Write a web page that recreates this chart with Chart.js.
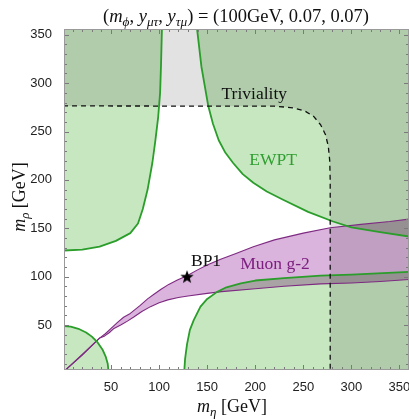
<!DOCTYPE html>
<html><head><meta charset="utf-8">
<style>html,body{margin:0;padding:0;background:#fff}canvas{display:block}</style>
<script src="https://cdn.jsdelivr.net/npm/chart.js@4.4.1/dist/chart.umd.min.js"></script>
</head><body>
<canvas id="c" width="409" height="419"></canvas>
<script>
// ---- axis ranges & ticks ----
const xRange = [1, 360];
const yRange = [3.5, 356];
const xTickValues = [50, 100, 150, 200, 250, 300, 350];
const yTickValues = [50, 100, 150, 200, 250, 300, 350];

// ---- EWPT exclusion boundaries (m_eta, m_rho) ----
const ewptLeft = [[0,127],[20,128],[38,131],[55,137],[70,145],[78,155],[83,170],[88,190],[93,218],[96,240],[99,265],[101,290],[102,320],[103,360]];
const ewptUpperRight = [[139,360],[144,317],[151,277],[156,258],[162,241],[169,228],[177,217.5],[187,206],[198,197],[212,188],[229,179.5],[255,167],[281,157],[300,151],[330,146],[360,141.5]];
const ewptLowerRight = [[126,0],[127,15],[129,30],[132,45],[136,55],[143,69],[150,77],[160,84],[170,89],[185,93],[200,96],[230,98.5],[268,101],[300,102],[360,105]];
const ewptCorner = [[0,49],[8,48.3],[16,46.1],[24,42.3],[30,38],[36,32],[41,24.7],[44.5,17],[46.5,10],[47.5,0]];

// ---- Muon g-2 band ----
const muonUpper = [[2,3],[20,19.5],[38,36.5],[44,41],[50,46.5],[57,53],[63,58],[70,62],[80,70],[88,77],[95,82],[102,87],[110,92],[119,96.5],[129,101],[140,107],[150,112],[164,118],[180,124],[198,131],[220,138],[250,145],[278,150.5],[310,154],[340,157],[360,159.5]];
const muonLower = [[2,3],[20,19],[38,36.5],[43,38.5],[48,42],[53,46.5],[60,50],[67,54],[74,58.5],[82,64],[91,69],[100,73],[109,76],[120,78.5],[130,80],[150,82.7],[165,84.5],[200,87.5],[230,90],[268,92.5],[300,93.5],[330,95],[360,97]];

// ---- Triviality bound ----
const triviality = [[0,276.5],[220,276.2],[240,274.5],[252,271],[261,265.5],[268,257],[273,247],[276,235],[277.5,220],[278,200],[278,0]];

// ---- benchmark point ----
const bp1 = [[129,100]];

// ---- text annotations (anchor in data coords, baseline) ----
const annotations = [
  {text:'Triviality', x:199, y:284, color:'#111'},
  {text:'EWPT', x:218.5, y:215.5, color:'#2f9e2f'},
  {text:'BP1', x:148.8, y:111.2, color:'#111'},
  {text:'Muon g-2', x:220.6, y:107.5, color:'#7d1f80'}
];

// ---- build polygons ----
const X0 = xRange[0]-20, X1 = xRange[1]+20, Y0 = yRange[0]-20, Y1 = yRange[1]+20;
const last = a => a[a.length-1];
const polyLeft = [[X0, ewptLeft[0][1]], ...ewptLeft, [last(ewptLeft)[0], Y1], [X0, Y1]];
const polyUpperRight = [[ewptUpperRight[0][0], Y1], ...ewptUpperRight, [X1, last(ewptUpperRight)[1]], [X1, Y1]];
const polyLowerRight = [[ewptLowerRight[0][0], Y0], ...ewptLowerRight, [X1, last(ewptLowerRight)[1]], [X1, Y0]];
const polyCorner = [[X0, ewptCorner[0][1]], ...ewptCorner, [last(ewptCorner)[0], Y0], [X0, Y0]];
const polyMuon = [...muonUpper, ...muonLower.slice().reverse()];
const polyTriv = [[X0, triviality[0][1]], ...triviality, [last(triviality)[0], Y0], [X1, Y0], [X1, Y1], [X0, Y1]];

const P = a => a.map(([x,y]) => ({x, y}));
const GREEN_FILL = 'rgb(199,231,193)';
const GREEN_LINE = '#2a9d2a';
const PURPLE_FILL = 'rgb(218,180,220)';
const PURPLE_LINE = '#7e2a82';
const TRIV_FILL = 'rgb(226,226,226)';

function fillDs(pts, color, blend){
  return {data:P(pts), fill:'shape', backgroundColor:color, borderWidth:0, pointRadius:0, tension:0, clip:0, blend:!!blend};
}
function lineDs(pts, color, width, dash){
  return {data:P(pts), fill:false, borderColor:color, borderWidth:width, borderDash:dash||[], pointRadius:0, tension:0, clip:0, borderJoinStyle:'round'};
}

// star marker
const star = document.createElement('canvas');
star.width = 14; star.height = 14;
(function(){
  const g = star.getContext('2d');
  g.fillStyle = '#000';
  g.beginPath();
  for (let i=0;i<10;i++){
    const r = i%2===0 ? 7 : 2.9;
    const a = -Math.PI/2 + i*Math.PI/5;
    const px = 7 + r*Math.cos(a), py = 7.5 + r*Math.sin(a);
    if(i===0) g.moveTo(px,py); else g.lineTo(px,py);
  }
  g.closePath(); g.fill();
})();

const layers = [
  fillDs(polyLeft, GREEN_FILL),
  fillDs(polyUpperRight, GREEN_FILL),
  fillDs(polyLowerRight, GREEN_FILL),
  fillDs(polyCorner, GREEN_FILL),
  fillDs(polyMuon, PURPLE_FILL, true),
  fillDs(polyTriv, TRIV_FILL, true),
  lineDs(muonUpper, PURPLE_LINE, 1.1),
  lineDs(muonLower, PURPLE_LINE, 1.1),
  lineDs(ewptLeft, GREEN_LINE, 1.8),
  lineDs(ewptUpperRight, GREEN_LINE, 1.8),
  lineDs(ewptLowerRight, GREEN_LINE, 1.8),
  lineDs(ewptCorner, GREEN_LINE, 1.8),
  lineDs(triviality, '#111', 1.3, [5,4]),
  {data:P(bp1), showLine:false, pointStyle:star, pointRadius:7, clip:false}
];
layers.forEach((d,i) => d.order = layers.length - i);

// ---- rich text helper ----
const SERIF = '"Liberation Serif","DejaVu Serif",serif';
function drawRich(ctx, parts, x, y, size, align){
  const fontOf = p => {
    const s = p.sub ? size*0.72 : size;
    return (p.it ? 'italic ' : '') + s + 'px ' + SERIF;
  };
  let w = 0;
  parts.forEach(p => { ctx.font = fontOf(p); p.w = ctx.measureText(p.t).width; w += p.w; });
  let cx = align === 'center' ? x - w/2 : x;
  ctx.textAlign = 'left'; ctx.textBaseline = 'alphabetic';
  parts.forEach(p => {
    ctx.font = fontOf(p);
    ctx.fillText(p.t, cx, y + (p.sub ? size*0.22 : 0));
    cx += p.w;
  });
}

function setBlend(chart, meta){
  const metas = chart.getSortedVisibleDatasetMetas();
  const pos = meta ? metas.indexOf(meta) - 1 : metas.length - 1;
  const next = metas[pos];
  chart.ctx.globalCompositeOperation = (next && chart.data.datasets[next.index].blend) ? 'multiply' : 'source-over';
}

const deco = {
  id: 'deco',
  beforeDatasetsDraw(chart){ setBlend(chart, null); },
  afterDatasetDraw(chart, args){ setBlend(chart, args.meta); },
  afterDatasetsDraw(chart){ chart.ctx.globalCompositeOperation = 'source-over'; },
  afterDraw(chart){
    const ctx = chart.ctx, a = chart.chartArea, xs = chart.scales.x, ys = chart.scales.y;
    ctx.save();
    // tick marks, inward on all four sides
    ctx.strokeStyle = '#7a7a7a'; ctx.lineWidth = 1;
    ctx.beginPath();
    for (let v = 10; v < 360; v += 10){
      const L = v % 50 === 0 ? 5 : 3;
      if (v >= xRange[0] && v <= xRange[1]){
        const px = Math.round(xs.getPixelForValue(v)) + 0.5;
        ctx.moveTo(px, a.bottom); ctx.lineTo(px, a.bottom - L);
        ctx.moveTo(px, a.top); ctx.lineTo(px, a.top + L);
      }
      if (v >= yRange[0] && v <= yRange[1]){
        const py = Math.round(ys.getPixelForValue(v)) + 0.5;
        ctx.moveTo(a.left, py); ctx.lineTo(a.left + L, py);
        ctx.moveTo(a.right, py); ctx.lineTo(a.right - L, py);
      }
    }
    ctx.stroke();
    // frame
    ctx.strokeStyle = '#9a9a9a';
    ctx.strokeRect(a.left + 0.5, a.top + 0.5, a.right - a.left - 1, a.bottom - a.top - 1);
    // annotations
    annotations.forEach(t => {
      ctx.fillStyle = t.color; ctx.font = '17.5px ' + SERIF;
      ctx.textAlign = 'center'; ctx.textBaseline = 'alphabetic';
      ctx.fillText(t.text, xs.getPixelForValue(t.x), ys.getPixelForValue(t.y));
    });
    // title
    ctx.fillStyle = '#111';
    drawRich(ctx, [
      {t:'('}, {t:'m', it:true}, {t:'ϕ', it:true, sub:true}, {t:', '},
      {t:'y', it:true}, {t:'μτ', it:true, sub:true}, {t:', '},
      {t:'y', it:true}, {t:'τμ', it:true, sub:true},
      {t:') = (100GeV, 0.07, 0.07)'}
    ], 236, 22, 18.5, 'center');
    // x axis title
    drawRich(ctx, [{t:'m', it:true}, {t:'η', it:true, sub:true}, {t:' [GeV]'}], 232, 412, 18, 'center');
    // y axis title
    ctx.translate(25, 197); ctx.rotate(-Math.PI/2);
    drawRich(ctx, [{t:'m', it:true}, {t:'ρ', it:true, sub:true}, {t:' [GeV]'}], 0, 0, 18, 'center');
    ctx.restore();
  }
};

new Chart(document.getElementById('c'), {
  type: 'line',
  data: { datasets: layers },
  options: {
    responsive: false, animation: false, devicePixelRatio: 1, events: [],
    layout: { autoPadding: false, padding: { top: 29, right: 0, left: 0, bottom: 0 } },
    plugins: { legend: {display:false}, tooltip: {enabled:false}, title: {display:false} },
    scales: {
      x: {
        type: 'linear', min: xRange[0], max: xRange[1],
        grid: {display:false}, border: {display:false},
        afterBuildTicks: s => { s.ticks = xTickValues.map(v => ({value:v})); },
        afterFit: s => { s.height = 49; s.paddingLeft = 0; s.paddingRight = 0; },
        ticks: { font:{family:'"Liberation Sans", Arial, sans-serif', size:13}, color:'#222', padding:2, maxRotation:0, autoSkip:false }
      },
      y: {
        type: 'linear', min: yRange[0], max: yRange[1],
        grid: {display:false}, border: {display:false},
        afterBuildTicks: s => { s.ticks = yTickValues.map(v => ({value:v})); },
        afterFit: s => { s.width = 64; s.paddingTop = 0; s.paddingBottom = 0; },
        ticks: { font:{family:'"Liberation Sans", Arial, sans-serif', size:13}, color:'#222', padding:4, autoSkip:false }
      }
    }
  },
  plugins: [deco]
});
</script>
</body></html>
